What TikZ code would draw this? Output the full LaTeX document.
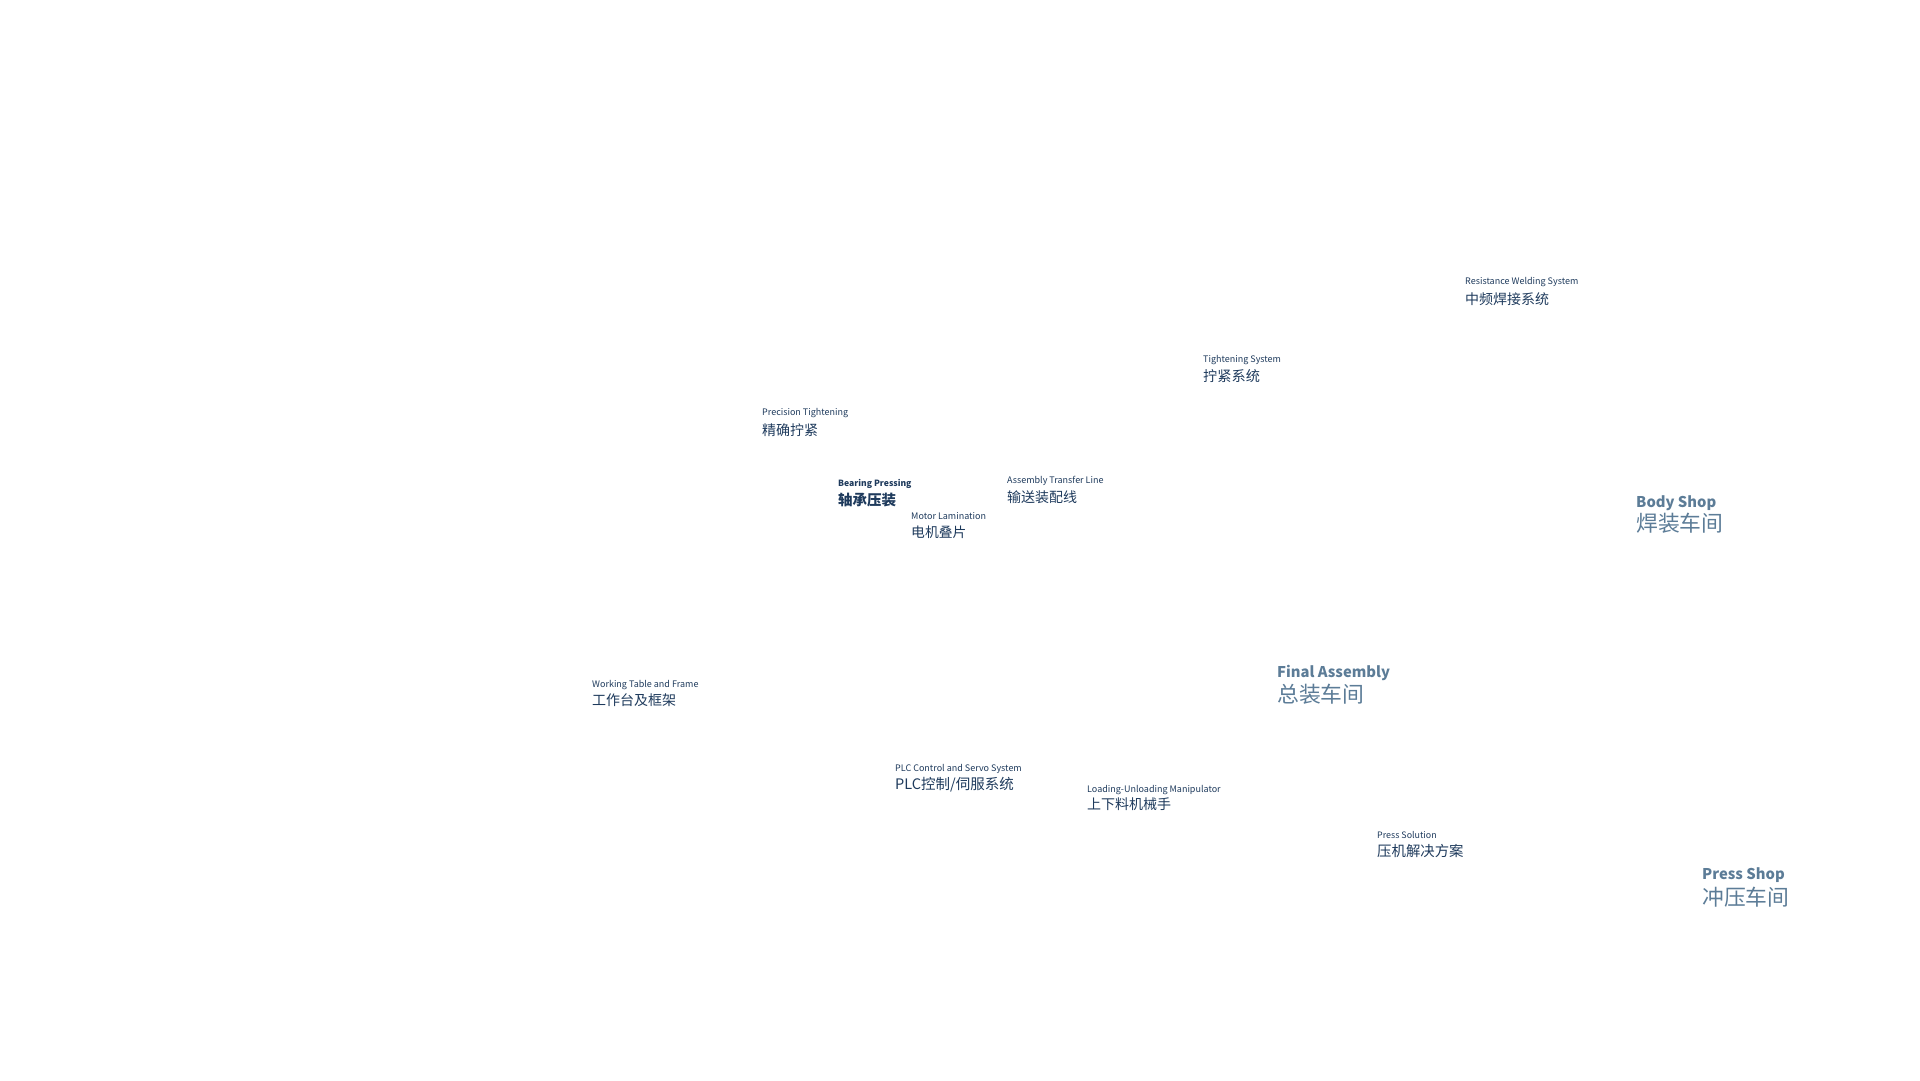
\documentclass[tikz,border=0pt]{standalone}
\usepackage{fontspec}
\setmainfont{Noto Sans CJK SC}
\usetikzlibrary{positioning}
\definecolor{labelnavy}{RGB}{30,58,92}
\definecolor{shopgray}{RGB}{92,124,151}

\begin{document}
\begin{tikzpicture}[x=1pt,y=-1pt,
    en/.style={anchor=base west,inner sep=0pt,text=labelnavy,font=\fontsize{9}{11}\selectfont},
    zh/.style={anchor=base west,inner sep=0pt,text=labelnavy,font=\fontsize{14}{16}\selectfont},
    shopen/.style={anchor=base west,inner sep=0pt,text=shopgray,font=\fontsize{14.8}{18}\selectfont\bfseries},
    shopzh/.style={anchor=base west,inner sep=0pt,text=shopgray,font=\fontsize{21.8}{24}\selectfont}]
    \useasboundingbox (0,0) rectangle (1920,1080);
    % equipment labels
    \node[en] (rws) at (1465,284) {Resistance Welding System};
    \node[zh] (rwsZh) at ([yshift=-20pt]rws.base west) {中频焊接系统};
    \node[en] (tsys) at (1203,362) {Tightening System};
    \node[zh,font=\fontsize{14.2}{16}\selectfont] (tsysZh) at ([yshift=-19pt]tsys.base west) {拧紧系统};
    \node[en] (ptight) at (762,415) {Precision Tightening};
    \node[zh] (ptightZh) at ([yshift=-20pt]ptight.base west) {精确拧紧};
    \node[en,font=\fontsize{8.6}{11}\selectfont\bfseries] (bpress) at (838,486) {Bearing Pressing};
    \node[zh,font=\fontsize{14.5}{16}\selectfont\bfseries] (bpressZh) at ([yshift=-19pt]bpress.base west) {轴承压装};
    \node[en] (atline) at (1007,483) {Assembly Transfer Line};
    \node[zh] (atlineZh) at ([yshift=-19pt]atline.base west) {输送装配线};
    \node[en] (mlam) at (911,519) {Motor Lamination};
    \node[zh,font=\fontsize{13.8}{16}\selectfont] (mlamZh) at ([yshift=-18pt]mlam.base west) {电机叠片};
    \node[en] (wtable) at (592,687) {Working Table and Frame};
    \node[zh] (wtableZh) at ([yshift=-18pt]wtable.base west) {工作台及框架};
    \node[en] (plc) at (895,771) {PLC Control and Servo System};
    \node[zh,font=\fontsize{14.5}{16}\selectfont] (plcZh) at ([yshift=-18pt]plc.base west) {PLC控制/伺服系统};
    \node[en] (manip) at (1087,792) {Loading-Unloading Manipulator};
    \node[zh] (manipZh) at ([yshift=-17pt]manip.base west) {上下料机械手};
    \node[en,font=\fontsize{8.9}{11}\selectfont] (psol) at (1377,838) {Press Solution};
    \node[zh,font=\fontsize{14.4}{16}\selectfont] (psolZh) at ([yshift=-18pt]psol.base west) {压机解决方案};
    % workshops
    \node[shopen] (fa) at (1277,677) {Final Assembly};
    \node[shopzh] (faZh) at ([yshift=-25pt]fa.base west) {总装车间};
    \node[shopen] (body) at (1636,507) {Body Shop};
    \node[shopzh] (bodyZh) at ([yshift=-24.5pt]body.base west) {焊装车间};
    \node[shopen] (press) at (1702,879) {Press Shop};
    \node[shopzh] (pressZh) at ([yshift=-26pt]press.base west) {冲压车间};
\end{tikzpicture}
\end{document}
